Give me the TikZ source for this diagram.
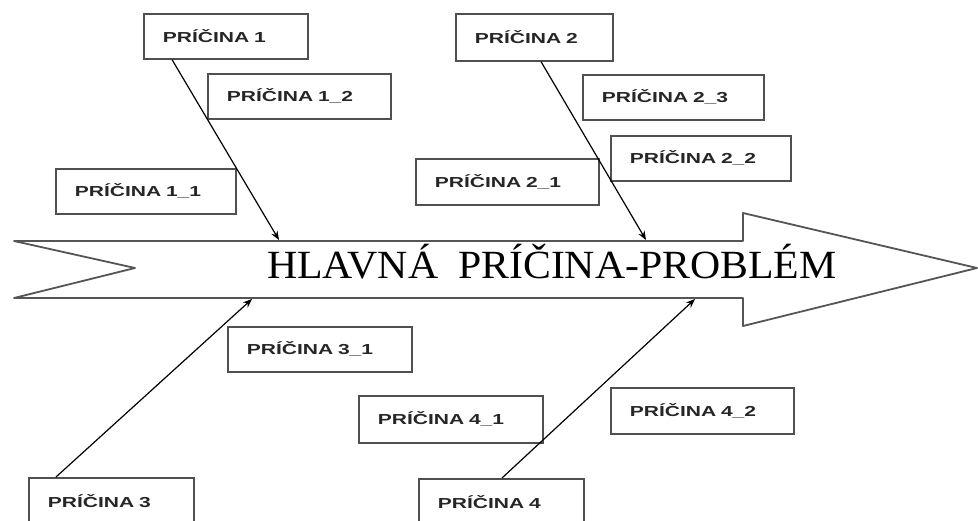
\documentclass[tikz,border=0pt]{standalone}
\usepackage{fontspec}
\setmainfont{Liberation Serif}
\newfontfamily\boxfont[FakeStretch=1.45]{Liberation Sans}
\usetikzlibrary{arrows.meta}
\definecolor{boxline}{HTML}{505050}
\definecolor{spine}{HTML}{555555}
\begin{document}
\begin{tikzpicture}[x=1pt,y=-1pt,
  cause/.style={draw=boxline, line width=1.6pt, anchor=north west,
    inner xsep=19pt, inner ysep=0pt, minimum height=45pt, align=left,
    font=\boxfont\bfseries\fontsize{14.5}{16}\selectfont, text=black!85},
  conn/.style={-{Stealth[length=9pt,width=7pt]}, line width=1.2pt, black},
  spinestyle/.style={draw=spine, line width=1.8pt, line join=round}]
\clip (0,0) rectangle (978,520);
% main fishbone arrow
\draw[spinestyle] (14,241) -- (743,241) -- (743,213) -- (977,268) -- (743,326)
  -- (743,298) -- (14,298) -- (135,268) -- cycle;
\node[anchor=base west, inner sep=0pt, font=\fontsize{40}{40}\selectfont]
  (main) at (267,278) {\scalebox{1.045}[1]{HLAVNÁ\hspace{19pt}PRÍČINA-PROBLÉM}};
% cause boxes
\node[cause, text width=126pt] (c1)  at (143,13)  {PRÍČINA 1};
\node[cause, text width=145pt] (c12) at (207,73)  {PRÍČINA 1\_2};
\node[cause, text width=142pt] (c11) at (55,168)  {PRÍČINA 1\_1};
\node[cause, text width=119pt, minimum height=47pt] (c2)  at (455,13)  {PRÍČINA 2};
\node[cause, text width=143pt] (c23) at (582,74)  {PRÍČINA 2\_3};
\node[cause, text width=142pt] (c22) at (610,135) {PRÍČINA 2\_2};
\node[cause, text width=145pt, minimum height=46pt] (c21) at (415,158) {PRÍČINA 2\_1};
\node[cause, text width=146pt] (c31) at (227,326) {PRÍČINA 3\_1};
\node[cause, text width=127pt, minimum height=47pt] (c3)  at (28,477)  {PRÍČINA 3};
\node[cause, text width=127pt, minimum height=47pt] (c4)  at (418,478) {PRÍČINA 4};
\node[cause, text width=146pt, minimum height=47pt] (c41) at (358,395) {PRÍČINA 4\_1};
\node[cause, text width=145pt, minimum height=46pt] (c42) at (610,387) {PRÍČINA 4\_2};
% arrow tips on the spine
\coordinate (t1) at (279,240);
\coordinate (t2) at (646,240);
\coordinate (t3) at (252,299);
\coordinate (t4) at (695,299);
% connectors
\draw[conn] ([xshift=29pt]c1.south west) -- (t1);
\draw[conn] ([xshift=86pt]c2.south west) -- (t2);
\draw[conn] ([xshift=28pt]c3.north west) -- (t3);
\draw[conn] ([xshift=84pt]c4.north west) -- (t4);
\end{tikzpicture}
\end{document}
